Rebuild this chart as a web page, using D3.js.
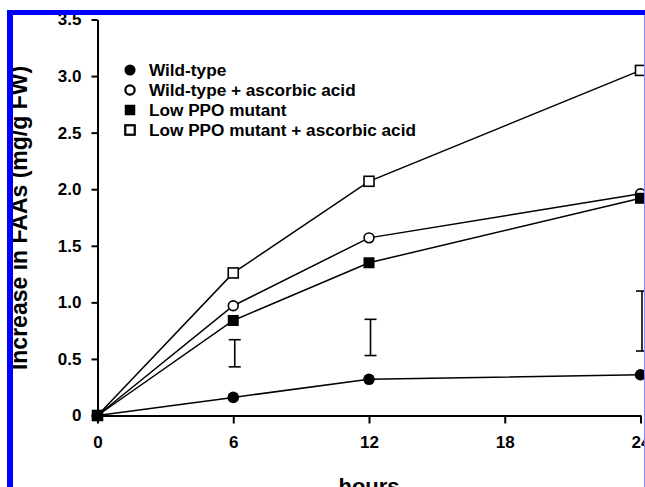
<!DOCTYPE html>
<html><head><meta charset="utf-8">
<script src="https://cdn.jsdelivr.net/npm/d3@7"></script>
<style>html,body{margin:0;padding:0;background:#fff;}svg{display:block;}</style>
</head><body>
<script>
const hours = [0, 6, 12, 24];
const seriesNames = ["Wild-type", "Wild-type + ascorbic acid", "Low PPO mutant", "Low PPO mutant + ascorbic acid"];
const wildType = [0, 0.16, 0.32, 0.36];
const wildTypeAA = [0, 0.97, 1.57, 1.96];
const lowPPO = [0, 0.84, 1.35, 1.92];
const lowPPOAA = [0, 1.26, 2.07, 3.05];
const errHours = [6, 12, 24];
const errLow = [0.43, 0.53, 0.57];
const errHigh = [0.67, 0.85, 1.10];
const xTicks = [0, 6, 12, 18, 24];
const yTicks = [0, 0.5, 1.0, 1.5, 2.0, 2.5, 3.0, 3.5];
const yTickLabels = ["0", "0.5", "1.0", "1.5", "2.0", "2.5", "3.0", "3.5"];

const W = 645, H = 487;
const FONT = "'Liberation Sans', Arial, Helvetica, sans-serif";
const svg = d3.select("body").append("svg").attr("width", W).attr("height", H);
svg.append("rect").attr("width", W).attr("height", H).attr("fill", "#fff");

const x = d3.scaleLinear().domain([0, 24]).range([97.5, 640.5]);
const y = d3.scaleLinear().domain([0, 3.5]).range([415.5, 19.5]);

// axes
const xAxis = d3.axisBottom(x).tickValues(xTicks).tickSize(8).tickPadding(12).tickSizeOuter(0).tickFormat(d3.format("d"));
const gx = svg.append("g").attr("transform", `translate(0,${y(0)})`).call(xAxis);
gx.select(".domain").attr("stroke", "#000").attr("stroke-width", 2);
gx.selectAll(".tick line").attr("stroke", "#000").attr("stroke-width", 2);
gx.selectAll(".tick text").attr("font-family", FONT).attr("font-weight", "bold").attr("font-size", 17).attr("fill", "#000");

const yAxis = d3.axisLeft(y).tickValues(yTicks).tickSize(6).tickPadding(10).tickSizeOuter(0)
  .tickFormat((d, i) => yTickLabels[i]);
const gy = svg.append("g").attr("transform", `translate(${x(0)},0)`).call(yAxis);
gy.select(".domain").attr("stroke", "#000").attr("stroke-width", 2);
gy.selectAll(".tick line").attr("stroke", "#000").attr("stroke-width", 2);
gy.selectAll(".tick text").attr("font-family", FONT).attr("font-weight", "bold").attr("font-size", 17).attr("fill", "#000");

// axis titles
svg.append("text").attr("transform", "translate(27,218) rotate(-90)")
  .attr("text-anchor", "middle").attr("font-family", FONT).attr("font-weight", "bold")
  .attr("font-size", 23).attr("fill", "#000").text("Increase in FAAs (mg/g FW)");
svg.append("text").attr("x", x(12)).attr("y", 494).attr("text-anchor", "middle")
  .attr("font-family", FONT).attr("font-weight", "bold").attr("font-size", 22).attr("fill", "#000").text("hours");

// error bars
const errData = errHours.map((h, i) => ({h, lo: errLow[i], hi: errHigh[i]}));
const eg = svg.append("g").attr("stroke", "#000").attr("stroke-width", 1.6);
errData.forEach(e => {
  eg.append("line").attr("x1", x(e.h) + 1.5).attr("x2", x(e.h) + 1.5).attr("y1", y(e.lo)).attr("y2", y(e.hi));
  [e.lo, e.hi].forEach(v => eg.append("line").attr("x1", x(e.h) + 1.5 - 6).attr("x2", x(e.h) + 1.5 + 6).attr("y1", y(v)).attr("y2", y(v)));
});

// series
const series = [
  {name: seriesNames[0], vals: wildType, shape: "circle", fill: "#000"},
  {name: seriesNames[1], vals: wildTypeAA, shape: "circle", fill: "#fff"},
  {name: seriesNames[2], vals: lowPPO, shape: "square", fill: "#000"},
  {name: seriesNames[3], vals: lowPPOAA, shape: "square", fill: "#fff"}
];
const line = d3.line().x(d => x(d.h)).y(d => y(d.v));
series.forEach(s => {
  s.pts = hours.map((h, i) => ({h, v: s.vals[i]}));
  svg.append("path").datum(s.pts).attr("d", line).attr("fill", "none").attr("stroke", "#000").attr("stroke-width", 1.5);
});
function marker(g, shape, fill, cx, cy, size, sw) {
  if (shape === "circle") {
    g.append("circle").attr("cx", cx).attr("cy", cy).attr("r", fill === "#000" ? size / 2 + 0.3 : size / 2 - 0.6)
      .attr("fill", fill).attr("stroke", "#000").attr("stroke-width", fill === "#000" ? 0 : sw);
  } else {
    const s = fill === "#000" ? size : size - 1;
    g.append("rect").attr("x", cx - s / 2).attr("y", cy - s / 2).attr("width", s).attr("height", s)
      .attr("fill", fill).attr("stroke", "#000").attr("stroke-width", fill === "#000" ? 0 : sw);
  }
}
const mg = svg.append("g");
[1, 3, 0, 2].forEach(k => {
  const s = series[k];
  s.pts.forEach(p => marker(mg, s.shape, s.fill, x(p.h), y(p.v), 11, 1.6));
});

// legend
const lg = svg.append("g");
series.forEach((s, i) => {
  const cy = 70 + i * 20;
  marker(lg, s.shape, s.fill, 130, cy, 10.5, 2.2);
  lg.append("text").attr("x", 149).attr("y", cy + 6).attr("font-family", FONT).attr("font-weight", "bold")
    .attr("font-size", 17.2).attr("fill", "#000").text(s.name);
});

// frame
svg.append("rect").attr("x", 0).attr("y", 0).attr("width", W).attr("height", 10).attr("fill", "#fff");
svg.append("rect").attr("x", 0).attr("y", 0).attr("width", 7).attr("height", H).attr("fill", "#fff");
svg.append("rect").attr("x", 7).attr("y", 10).attr("width", W - 7).attr("height", 5).attr("fill", "#0000ff");
svg.append("rect").attr("x", 7).attr("y", 10).attr("width", 6).attr("height", H - 10).attr("fill", "#0000ff");
svg.append("rect").attr("x", 644).attr("y", 15).attr("width", 1).attr("height", H - 15).attr("fill", "#8888ff");
</script>
</body></html>
